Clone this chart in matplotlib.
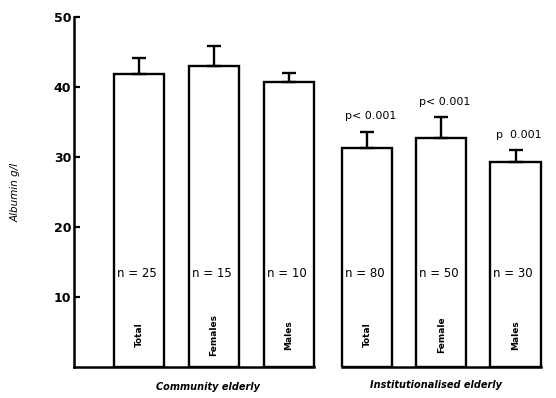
import matplotlib.pyplot as plt

# albumin means with SEM, community vs institutionalised elderly
groups = ["Community elderly", "Institutionalised elderly"]
subgroups = ["Total", "Females", "Males", "Total", "Female", "Males"]
albumin = [41.9, 43.0, 40.7, 31.3, 32.7, 29.3]
sem = [2.2, 2.9, 1.3, 2.3, 3.0, 1.7]
n_counts = [25, 15, 10, 80, 50, 30]
p_labels = ["", "", "", "p< 0.001", "p< 0.001", "p  0.001"]

x = [0, 1, 2, 3.04, 4.03, 5.02]
w = 0.67

fig = plt.figure(figsize=(5.56, 3.98), dpi=100)
ax = fig.add_axes([74 / 556, 31 / 398, 471 / 556, 350 / 398])
ax.set_xlim(-0.867, 5.413)
ax.set_ylim(0, 50)

ax.bar(x, albumin, width=w, facecolor="white", edgecolor="black", linewidth=1.7, zorder=2)
ax.errorbar(x, albumin, yerr=[[0] * 6, sem], fmt="none", ecolor="black",
            elinewidth=1.7, capsize=5, capthick=1.7, zorder=3)

# baseline, broken between the two groups
ax.plot([-0.867, x[2] + w / 2], [0, 0], color="black", lw=1.8, clip_on=False, zorder=4)
ax.plot([x[3] - w / 2, x[5] + w / 2], [0, 0], color="black", lw=1.8, clip_on=False, zorder=4)

for s in ["top", "right", "bottom"]:
    ax.spines[s].set_visible(False)
ax.spines["left"].set_linewidth(1.8)
ax.set_xticks([])
ax.set_yticks([10, 20, 30, 40, 50])
ax.tick_params(axis="y", direction="in", length=4, width=1.6, pad=2, labelsize=9)
for lab in ax.get_yticklabels():
    lab.set_fontweight("bold")

ax.set_ylabel("Albumin g/l", fontsize=7.5, style="italic", labelpad=24)

for xi, v, n, sub, p, e in zip(x, albumin, n_counts, subgroups, p_labels, sem):
    ax.text(xi - w / 2 + 0.04, 13.4, f"n = {n}", fontsize=8.5, ha="left", va="center", zorder=5)
    ax.text(xi, 4.6, sub, fontsize=6.5, fontweight="bold", rotation=90,
            ha="center", va="center", zorder=5)
    if p:
        ax.text(xi + 0.05, v + e + 1.5, p, fontsize=8, ha="center", va="bottom")

ax.text(0.92, -2.9, groups[0], fontsize=7, style="italic", fontweight="bold",
        ha="center", va="center", clip_on=False)
ax.text(3.96, -2.5, groups[1], fontsize=7, style="italic", fontweight="bold",
        ha="center", va="center", clip_on=False)

fig.savefig("out.png", dpi=100)
